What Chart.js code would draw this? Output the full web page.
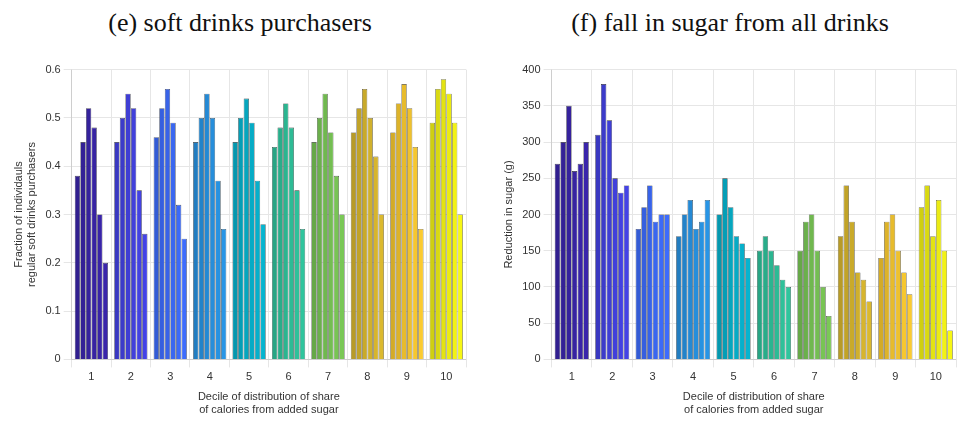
<!DOCTYPE html>
<html><head><meta charset="utf-8">
<script src="https://cdn.jsdelivr.net/npm/chart.js@4"></script>
<style>
body{margin:0;background:#fff;width:971px;height:427px;overflow:hidden;font-family:"DejaVu Serif",serif}
.p{position:absolute;top:0;width:480px;height:427px}
.p h2{margin:0;position:absolute;top:8px;width:100%;text-align:center;font-weight:normal;font-size:26px;font-family:"Liberation Serif","DejaVu Serif",serif;color:#111}
.p .c{position:absolute;top:60px;left:0;width:480px;height:365px}
</style></head><body>
<div class="p" style="left:0"><h2>(e) soft drinks purchasers</h2><div class="c"><canvas id="e"></canvas></div></div>
<div class="p" style="left:490px"><h2>(f) fall in sugar from all drinks</h2><div class="c"><canvas id="f"></canvas></div></div>
<script>
const deciles = ['1','2','3','4','5','6','7','8','9','10'];
const ageGroups = ['1','2','3','4','5','6'];
// parula-like colour per decile
const decileColors = ['#3a25ab','#4443e6','#3d6cfd','#2895e6','#06b4cf','#2fc59d','#7ac856','#dbb92e','#fbcb30','#f7f714'];

// (e) fraction of regular soft drinks purchasers, rows = age group 1..6
const purchE = [
  [0.38,0.45,0.46,0.45,0.45,0.44,0.45,0.47,0.47,0.49],
  [0.45,0.50,0.52,0.50,0.50,0.48,0.50,0.52,0.53,0.56],
  [0.52,0.55,0.56,0.55,0.54,0.53,0.55,0.56,0.57,0.58],
  [0.48,0.52,0.49,0.50,0.49,0.48,0.47,0.50,0.52,0.55],
  [0.30,0.35,0.32,0.37,0.37,0.35,0.38,0.42,0.44,0.49],
  [0.20,0.26,0.25,0.27,0.28,0.27,0.30,0.30,0.27,0.30]
];
// (f) reduction in sugar (g), rows = age group 1..6
const sugarF = [
  [270,310,180,170,200,150,150,170,140,210],
  [300,380,210,200,250,170,190,240,190,240],
  [350,330,240,220,210,150,200,190,200,170],
  [260,250,190,180,170,130,150,120,150,220],
  [270,230,200,190,160,110,100,110,120,150],
  [300,240,200,220,140,100,60,80,90,40]
];

const shade = [0.84,0.88,0.92,0.95,0.98,1.0];
function tint(hex,k){
  const n=parseInt(hex.slice(1),16);
  const r=(n>>16)&255,g=(n>>8)&255,b=n&255;
  return `rgb(${Math.round(r*k)},${Math.round(g*k)},${Math.round(b*k)})`;
}
function make(id, rows, yTitle, yMax, step){
  new Chart(document.getElementById(id), {
    type:'bar',
    data:{ labels:deciles, datasets: rows.map((r,i)=>({
      label:'Age group '+ageGroups[i], data:r,
      backgroundColor: decileColors.map(c=>tint(c,shade[i])),
      borderColor:'#333', borderWidth:0.6,
      categoryPercentage:0.85, barPercentage:0.95 })) },
    options:{ responsive:true, maintainAspectRatio:false, animation:false,
      plugins:{ legend:{display:false} },
      layout:{ padding:{left:8,right:14,top:6,bottom:4} },
      scales:{
        x:{ grid:{color:'#e6e6e6'}, ticks:{color:'#333',font:{family:'Helvetica, Arial',size:11}},
            title:{display:true,text:['Decile of distribution of share','of calories from added sugar'],color:'#333',font:{family:'Helvetica, Arial',size:11}} },
        y:{ min:0, max:yMax, grid:{color:'#e6e6e6'}, ticks:{stepSize:step,color:'#333',font:{family:'Helvetica, Arial',size:11}},
            title:{display:true,text:yTitle,color:'#333',font:{family:'Helvetica, Arial',size:11}} }
      } }
  });
}
make('e', purchE, ['Fraction of individauls','regular soft drinks purchasers'], 0.6, 0.1);
make('f', sugarF, 'Reduction in sugar (g)', 400, 50);
</script>
</body></html>
